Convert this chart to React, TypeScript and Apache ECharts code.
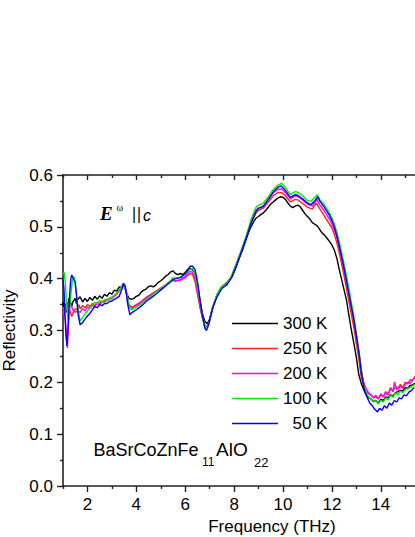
import React, { useEffect, useRef } from 'react';
import * as echarts from 'echarts';

const seriesNames = ['300 K', '250 K', '200 K', '100 K', '\u200750 K'];
const seriesColors = ['#000000', '#ff2020', '#ff00ff', '#00ee00', '#0000ff'];

const xMajorTicks = [2, 4, 6, 8, 10, 12, 14];
const xMinorTicks = [1, 3, 5, 7, 9, 11, 13, 15];

const k300: number[][] = [
  [1.0,0.355],[1.05,0.338],[1.1,0.352],[1.15,0.335],[1.2,0.35],[1.25,0.362],[1.3,0.355],[1.35,0.345],[1.4,0.355],[1.5,0.362],[1.55,0.352],[1.6,0.36],[1.7,0.365],[1.8,0.355],[1.9,0.362],[2.0,0.356],[2.1,0.364],[2.2,0.358],[2.3,0.366],[2.4,0.36],[2.5,0.367],[2.6,0.362],[2.7,0.37],[2.8,0.366],[2.9,0.373],[3.0,0.37],[3.1,0.378],[3.2,0.376],[3.3,0.384],[3.4,0.383],[3.45,0.39],[3.5,0.388],[3.6,0.372],[3.7,0.362],[3.8,0.36],[3.9,0.362],[4.0,0.366],[4.1,0.368],[4.2,0.374],[4.3,0.378],[4.4,0.38],[4.5,0.385],[4.6,0.386],[4.7,0.384],[4.8,0.388],[4.9,0.393],[5.0,0.396],[5.1,0.4],[5.2,0.405],[5.3,0.408],[5.4,0.413],[5.5,0.415],[5.6,0.41],[5.7,0.408],[5.8,0.41],[5.9,0.408],[6.0,0.412],[6.1,0.418],[6.2,0.42],[6.3,0.417],[6.4,0.41],[6.5,0.39],[6.6,0.36],[6.7,0.333],[6.8,0.318],[6.9,0.313],[7.0,0.322],[7.1,0.342],[7.2,0.355],[7.3,0.368],[7.4,0.378],[7.5,0.385],[7.6,0.388],[7.7,0.392],[7.8,0.398],[7.9,0.404],[8.0,0.413],[8.1,0.425],[8.2,0.438],[8.3,0.45],[8.4,0.463],[8.5,0.477],[8.6,0.49],[8.7,0.501],[8.8,0.51],[8.9,0.517],[9.0,0.52],[9.1,0.524],[9.2,0.527],[9.3,0.532],[9.4,0.538],[9.5,0.544],[9.6,0.548],[9.7,0.552],[9.8,0.556],[9.9,0.558],[10.0,0.557],[10.1,0.553],[10.2,0.546],[10.3,0.54],[10.4,0.537],[10.5,0.54],[10.6,0.542],[10.7,0.539],[10.8,0.532],[10.9,0.525],[11.0,0.52],[11.1,0.515],[11.2,0.508],[11.3,0.505],[11.4,0.502],[11.5,0.495],[11.6,0.488],[11.7,0.484],[11.8,0.478],[11.9,0.472],[12.0,0.465],[12.1,0.455],[12.2,0.44],[12.3,0.418],[12.4,0.398],[12.5,0.378],[12.6,0.358],[12.7,0.328],[12.8,0.3],[12.9,0.275],[13.0,0.248],[13.1,0.215],[13.2,0.198],[13.3,0.186],[13.4,0.176],[13.5,0.17],[13.6,0.168],[13.7,0.163],[13.8,0.165],[13.9,0.16],[14.0,0.167],[14.1,0.165],[14.2,0.172],[14.3,0.17],[14.4,0.176],[14.5,0.174],[14.6,0.18],[14.7,0.182],[14.8,0.185],[14.9,0.183],[15.0,0.19],[15.1,0.188],[15.2,0.194],[15.3,0.195],[15.4,0.198]
];

const k250: number[][] = [
  [1.0,0.345],[1.05,0.33],[1.1,0.35],[1.15,0.34],[1.2,0.355],[1.25,0.345],[1.3,0.335],[1.36,0.327],[1.42,0.335],[1.5,0.342],[1.57,0.34],[1.65,0.35],[1.7,0.342],[1.8,0.348],[1.9,0.344],[2.0,0.35],[2.1,0.346],[2.2,0.352],[2.3,0.348],[2.4,0.354],[2.5,0.353],[2.6,0.356],[2.7,0.358],[2.8,0.36],[2.9,0.362],[3.0,0.364],[3.1,0.368],[3.2,0.372],[3.3,0.378],[3.4,0.384],[3.5,0.388],[3.6,0.372],[3.7,0.35],[3.8,0.345],[3.9,0.347],[4.0,0.35],[4.2,0.356],[4.4,0.364],[4.6,0.37],[4.8,0.376],[5.0,0.382],[5.2,0.388],[5.4,0.395],[5.5,0.398],[5.6,0.396],[5.8,0.397],[6.0,0.402],[6.1,0.406],[6.2,0.41],[6.3,0.408],[6.4,0.395],[6.5,0.37],[6.6,0.345],[6.7,0.325],[6.8,0.31],[6.9,0.308],[7.0,0.32],[7.1,0.34],[7.3,0.368],[7.5,0.383],[7.7,0.39],[7.9,0.405],[8.1,0.428],[8.3,0.453],[8.5,0.48],[8.7,0.508],[8.9,0.527],[9.0,0.532],[9.1,0.534],[9.2,0.536],[9.4,0.548],[9.6,0.56],[9.8,0.566],[9.95,0.566],[10.1,0.56],[10.3,0.548],[10.5,0.553],[10.6,0.552],[10.8,0.545],[11.0,0.538],[11.2,0.534],[11.35,0.546],[11.5,0.535],[11.7,0.52],[11.9,0.505],[12.0,0.498],[12.1,0.485],[12.2,0.47],[12.3,0.45],[12.4,0.428],[12.5,0.405],[12.6,0.38],[12.7,0.355],[12.8,0.33],[12.9,0.305],[13.0,0.275],[13.1,0.245],[13.2,0.21],[13.3,0.192],[13.4,0.182],[13.5,0.178],[13.6,0.175],[13.7,0.17],[13.8,0.172],[13.9,0.168],[14.0,0.176],[14.1,0.172],[14.2,0.182],[14.3,0.178],[14.4,0.188],[14.5,0.183],[14.6,0.192],[14.7,0.188],[14.8,0.196],[14.9,0.19],[15.0,0.2],[15.1,0.197],[15.2,0.205],[15.3,0.203],[15.4,0.212]
];

const k200: number[][] = [
  [1.0,0.33],[1.05,0.345],[1.1,0.32],[1.15,0.29],[1.18,0.266],[1.22,0.31],[1.27,0.345],[1.32,0.35],[1.4,0.34],[1.5,0.335],[1.6,0.338],[1.7,0.335],[1.8,0.342],[1.9,0.338],[2.0,0.345],[2.1,0.342],[2.2,0.348],[2.3,0.346],[2.4,0.352],[2.5,0.35],[2.6,0.355],[2.7,0.355],[2.8,0.358],[2.9,0.36],[3.0,0.362],[3.1,0.366],[3.2,0.37],[3.3,0.376],[3.4,0.382],[3.5,0.386],[3.6,0.37],[3.7,0.345],[3.8,0.342],[3.9,0.345],[4.0,0.347],[4.2,0.354],[4.4,0.362],[4.6,0.368],[4.8,0.375],[5.0,0.381],[5.2,0.388],[5.4,0.394],[5.5,0.397],[5.6,0.395],[5.8,0.398],[6.0,0.404],[6.1,0.41],[6.2,0.414],[6.3,0.412],[6.4,0.4],[6.5,0.375],[6.6,0.35],[6.7,0.325],[6.8,0.308],[6.9,0.306],[7.0,0.318],[7.1,0.34],[7.3,0.368],[7.5,0.384],[7.7,0.39],[7.9,0.405],[8.1,0.43],[8.3,0.455],[8.5,0.482],[8.7,0.512],[8.9,0.532],[9.0,0.536],[9.1,0.538],[9.2,0.54],[9.4,0.553],[9.6,0.566],[9.8,0.573],[9.95,0.573],[10.1,0.566],[10.3,0.554],[10.5,0.56],[10.6,0.559],[10.8,0.552],[11.0,0.544],[11.2,0.54],[11.38,0.553],[11.5,0.543],[11.7,0.53],[11.9,0.515],[12.0,0.505],[12.1,0.494],[12.2,0.48],[12.3,0.46],[12.4,0.438],[12.5,0.415],[12.6,0.392],[12.7,0.368],[12.8,0.342],[12.9,0.318],[13.0,0.29],[13.1,0.258],[13.2,0.225],[13.3,0.2],[13.4,0.188],[13.5,0.18],[13.6,0.176],[13.7,0.17],[13.8,0.175],[13.9,0.168],[14.0,0.178],[14.1,0.172],[14.2,0.18],[14.3,0.175],[14.4,0.19],[14.5,0.182],[14.56,0.201],[14.65,0.185],[14.8,0.192],[14.9,0.188],[15.0,0.196],[15.1,0.2],[15.2,0.198],[15.3,0.205],[15.4,0.208]
];

const k100: number[][] = [
  [1.0,0.41],[1.05,0.412],[1.1,0.39],[1.15,0.35],[1.22,0.315],[1.3,0.36],[1.38,0.395],[1.45,0.404],[1.5,0.39],[1.6,0.345],[1.7,0.318],[1.8,0.325],[1.9,0.332],[2.0,0.338],[2.1,0.344],[2.2,0.35],[2.3,0.354],[2.4,0.352],[2.5,0.358],[2.6,0.355],[2.7,0.36],[2.8,0.358],[2.9,0.362],[3.0,0.364],[3.1,0.368],[3.2,0.372],[3.3,0.378],[3.4,0.384],[3.5,0.39],[3.6,0.375],[3.7,0.347],[3.8,0.34],[3.9,0.342],[4.0,0.345],[4.2,0.351],[4.4,0.359],[4.6,0.366],[4.8,0.374],[5.0,0.38],[5.2,0.388],[5.4,0.396],[5.5,0.402],[5.6,0.401],[5.8,0.403],[6.0,0.408],[6.1,0.413],[6.2,0.418],[6.3,0.42],[6.4,0.41],[6.5,0.385],[6.6,0.356],[6.7,0.328],[6.8,0.31],[6.9,0.306],[7.0,0.318],[7.1,0.342],[7.3,0.37],[7.5,0.385],[7.7,0.39],[7.9,0.405],[8.1,0.43],[8.3,0.456],[8.5,0.483],[8.7,0.515],[8.9,0.538],[9.0,0.542],[9.1,0.543],[9.2,0.546],[9.4,0.558],[9.6,0.572],[9.8,0.581],[9.95,0.584],[10.1,0.575],[10.3,0.562],[10.5,0.568],[10.6,0.567],[10.8,0.56],[11.0,0.551],[11.15,0.549],[11.3,0.557],[11.4,0.562],[11.5,0.553],[11.7,0.542],[11.9,0.527],[12.0,0.517],[12.1,0.505],[12.2,0.49],[12.3,0.472],[12.4,0.45],[12.5,0.428],[12.6,0.405],[12.7,0.38],[12.8,0.353],[12.9,0.328],[13.0,0.295],[13.1,0.262],[13.2,0.225],[13.3,0.195],[13.4,0.18],[13.5,0.172],[13.6,0.168],[13.7,0.162],[13.8,0.165],[13.9,0.158],[14.0,0.165],[14.1,0.162],[14.2,0.17],[14.3,0.166],[14.4,0.175],[14.5,0.171],[14.6,0.18],[14.7,0.176],[14.8,0.183],[14.9,0.18],[15.0,0.186],[15.1,0.188],[15.2,0.19],[15.3,0.193],[15.4,0.196]
];

const k50: number[][] = [
  [1.0,0.398],[1.04,0.38],[1.08,0.33],[1.12,0.29],[1.16,0.27],[1.2,0.3],[1.26,0.36],[1.32,0.4],[1.36,0.407],[1.42,0.4],[1.5,0.394],[1.55,0.37],[1.62,0.33],[1.7,0.311],[1.8,0.315],[1.9,0.322],[2.0,0.328],[2.1,0.333],[2.2,0.34],[2.3,0.346],[2.4,0.344],[2.5,0.35],[2.6,0.348],[2.7,0.352],[2.8,0.352],[2.9,0.356],[3.0,0.357],[3.1,0.36],[3.2,0.363],[3.3,0.366],[3.4,0.378],[3.48,0.391],[3.55,0.385],[3.65,0.35],[3.74,0.33],[3.8,0.334],[3.9,0.337],[4.0,0.34],[4.2,0.347],[4.42,0.357],[4.6,0.363],[4.8,0.37],[4.97,0.377],[5.2,0.386],[5.4,0.394],[5.5,0.398],[5.6,0.4],[5.8,0.402],[6.0,0.41],[6.1,0.416],[6.2,0.424],[6.3,0.424],[6.4,0.418],[6.5,0.395],[6.6,0.36],[6.7,0.33],[6.8,0.305],[6.87,0.3],[6.95,0.31],[7.05,0.33],[7.15,0.347],[7.3,0.365],[7.5,0.381],[7.7,0.388],[7.9,0.402],[8.1,0.426],[8.3,0.452],[8.5,0.479],[8.7,0.508],[8.9,0.53],[9.0,0.536],[9.1,0.537],[9.2,0.54],[9.4,0.553],[9.6,0.567],[9.8,0.577],[9.92,0.579],[10.1,0.57],[10.3,0.557],[10.5,0.562],[10.6,0.561],[10.8,0.554],[11.0,0.546],[11.15,0.543],[11.3,0.55],[11.42,0.558],[11.5,0.55],[11.7,0.537],[11.9,0.522],[12.0,0.512],[12.1,0.5],[12.2,0.483],[12.3,0.463],[12.4,0.442],[12.5,0.42],[12.6,0.395],[12.72,0.365],[12.8,0.345],[12.9,0.32],[13.0,0.29],[13.13,0.25],[13.2,0.22],[13.33,0.185],[13.45,0.17],[13.55,0.16],[13.65,0.155],[13.75,0.148],[13.87,0.143],[13.95,0.15],[14.05,0.146],[14.15,0.155],[14.25,0.15],[14.35,0.16],[14.45,0.156],[14.55,0.165],[14.65,0.162],[14.75,0.17],[14.85,0.168],[14.95,0.176],[15.05,0.174],[15.15,0.181],[15.25,0.184],[15.37,0.19]
];

const seriesData = [k300, k250, k200, k100, k50];

const AXIS_COLOR = '#222';
const FONT = '"Liberation Sans", Arial, sans-serif';

export default function App() {
  const ref = useRef<HTMLDivElement>(null);

  useEffect(() => {
    if (!ref.current) return;
    const chart = echarts.init(ref.current, undefined, { renderer: 'svg' });

    const baseX = {
      type: 'value' as const,
      min: 1,
      max: 15.4,
      gridIndex: 0,
      splitLine: { show: false },
    };

    const option: any = {
      animation: false,
      backgroundColor: '#ffffff',
      textStyle: { fontFamily: FONT, color: '#000' },
      grid: { left: 63, top: 175, right: 0, bottom: 51, containLabel: false, outerBoundsMode: 'none' },
      legend: {
        orient: 'vertical',
        left: 232,
        top: 315,
        padding: 0,
        icon: 'rect',
        itemWidth: 46,
        itemHeight: 1.6,
        itemGap: 8,
        textStyle: { fontSize: 17, color: '#000', fontFamily: FONT },
        data: seriesNames,
      },
      xAxis: [
        {
          ...baseX,
          position: 'bottom',
          name: 'Frequency (THz)',
          nameLocation: 'middle',
          nameGap: 24,
          nameTextStyle: { fontSize: 17, color: '#000', padding: [0, 0, 0, 66] },
          axisLine: { show: true, onZero: false, lineStyle: { color: AXIS_COLOR, width: 1.6 } },
          axisTick: { show: true, inside: false, length: 6, customValues: xMajorTicks, lineStyle: { color: AXIS_COLOR, width: 1.4 } },
          axisLabel: { show: true, fontSize: 17, color: '#000', margin: 10, customValues: xMajorTicks },
        },
        {
          ...baseX,
          position: 'bottom',
          axisLine: { show: false, onZero: false },
          axisTick: { show: true, inside: false, length: 3, customValues: xMinorTicks, lineStyle: { color: AXIS_COLOR, width: 1.4 } },
          axisLabel: { show: false },
        },
        {
          ...baseX,
          position: 'top',
          axisLine: { show: true, onZero: false, lineStyle: { color: AXIS_COLOR, width: 1.6 } },
          axisTick: { show: true, inside: true, length: 5, customValues: xMajorTicks, lineStyle: { color: AXIS_COLOR, width: 1.4 } },
          axisLabel: { show: false },
        },
        {
          ...baseX,
          position: 'top',
          axisLine: { show: false, onZero: false },
          axisTick: { show: true, inside: true, length: 3, customValues: xMinorTicks, lineStyle: { color: AXIS_COLOR, width: 1.4 } },
          axisLabel: { show: false },
        },
      ],
      yAxis: {
        type: 'value',
        min: 0,
        max: 0.6,
        interval: 0.1,
        name: 'Reflectivity',
        nameLocation: 'middle',
        nameGap: 40,
        nameTextStyle: { fontSize: 17, color: '#000' },
        splitLine: { show: false },
        axisLine: { show: true, onZero: false, lineStyle: { color: AXIS_COLOR, width: 1.6 } },
        axisTick: { show: true, inside: false, length: 6, lineStyle: { color: AXIS_COLOR, width: 1.4 } },
        minorTick: { show: true, splitNumber: 2, length: 3, lineStyle: { color: AXIS_COLOR, width: 1.4 } },
        axisLabel: {
          fontSize: 17,
          color: '#000',
          margin: 10,
          formatter: (v: number) => v.toFixed(1),
        },
      },
      series: seriesNames.map((name, i) => ({
        name,
        type: 'line',
        xAxisIndex: 0,
        yAxisIndex: 0,
        data: seriesData[i],
        symbol: 'none',
        showSymbol: false,
        color: seriesColors[i],
        lineStyle: { color: seriesColors[i], width: 1.4 },
        z: 2 + i,
      })),
      graphic: [
        {
          type: 'text',
          x: 100,
          y: 213.5,
          style: {
            text: 'E',
            font: 'italic bold 19px "Liberation Serif", "Times New Roman", serif',
            fill: '#000',
            verticalAlign: 'middle',
          },
        },
        {
          type: 'text',
          x: 116.5,
          y: 207,
          style: {
            text: 'ω',
            font: '10px "Liberation Serif", serif',
            fill: '#000',
            verticalAlign: 'middle',
          },
        },
        {
          type: 'text',
          x: 131.5,
          y: 214,
          style: {
            text: '||',
            font: '15px "DejaVu Sans", sans-serif',
            fill: '#000',
            verticalAlign: 'middle',
          },
        },
        {
          type: 'text',
          x: 143,
          y: 215,
          style: {
            text: 'c',
            font: 'italic 16px "Liberation Sans", Arial, sans-serif',
            fill: '#000',
            verticalAlign: 'middle',
          },
        },
        {
          type: 'text',
          x: 93.5,
          y: 449.7,
          style: {
            text: 'BaSrCoZnFe',
            font: '18px "Liberation Sans", Arial, sans-serif',
            fill: '#000',
            verticalAlign: 'middle',
          },
        },
        {
          type: 'text',
          x: 202,
          y: 462,
          style: {
            text: '11',
            font: '12px "Liberation Sans", Arial, sans-serif',
            fill: '#000',
            verticalAlign: 'middle',
          },
        },
        {
          type: 'text',
          x: 216,
          y: 449.7,
          style: {
            text: 'AlO',
            font: '19px "Liberation Sans", Arial, sans-serif',
            fill: '#000',
            verticalAlign: 'middle',
          },
        },
        {
          type: 'text',
          x: 254,
          y: 462,
          style: {
            text: '22',
            font: '13px "Liberation Sans", Arial, sans-serif',
            fill: '#000',
            verticalAlign: 'middle',
          },
        },
      ],
    };

    chart.setOption(option);
    return () => {
      chart.dispose();
    };
  }, []);

  return (
    <div
      ref={ref}
      style={{ position: 'fixed', left: 0, top: 0, width: 415, height: 537, background: '#fff' }}
    />
  );
}
